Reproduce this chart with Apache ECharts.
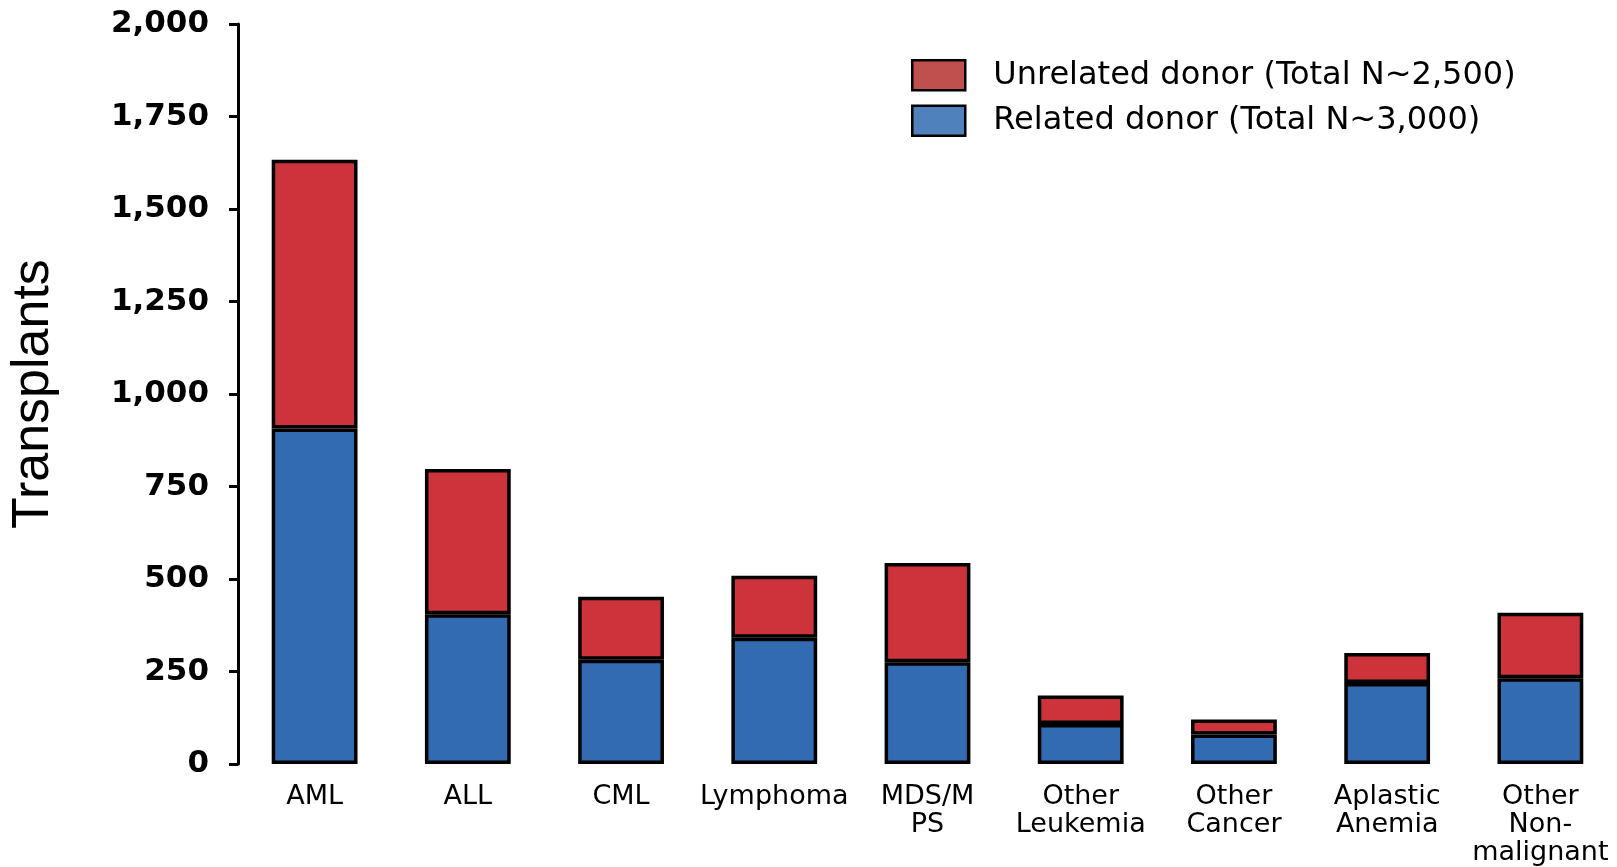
<!DOCTYPE html>
<html>
<head>
<meta charset="utf-8">
<script src="https://cdn.jsdelivr.net/npm/echarts@6/dist/echarts.min.js"></script>
<style>
html,body{margin:0;padding:0;background:#fff;}
#chart{width:1617px;height:867px;}
</style>
</head>
<body>
<div id="chart"></div>
<script>
var categories = ['AML', 'ALL', 'CML', 'Lymphoma', 'MDS/M\nPS', 'Other\nLeukemia', 'Other\nCancer', 'Aplastic\nAnemia', 'Other\nNon-\nmalignant'];
var relatedDonor = [907, 405, 282, 341, 275, 108, 80, 219, 232];
var unrelatedDonor = [726, 392, 170, 168, 268, 77, 40, 81, 177];
var yTicks = [0, 250, 500, 750, 1000, 1250, 1500, 1750, 2000];
var seriesNames = ['Unrelated donor (Total N~2,500)', 'Related donor (Total N~3,000)'];

var chart = echarts.init(document.getElementById('chart'));
chart.setOption({
  animation: false,
  backgroundColor: '#ffffff',
  grid: { left: 231, right: 0, top: 24, bottom: 89, containLabel: false },
  legend: {
    orient: 'vertical',
    left: 906,
    top: 54,
    icon: 'rect',
    itemWidth: 53,
    itemHeight: 30,
    itemGap: 13,
    data: [
      { name: seriesNames[0], itemStyle: { color: '#C0504D', borderColor: '#000', borderWidth: 2.5 } },
      { name: seriesNames[1], itemStyle: { color: '#4F81BD', borderColor: '#000', borderWidth: 2.5 } }
    ],
    textStyle: { fontFamily: 'DejaVu Sans', fontSize: 32, color: '#000', padding: [0, 0, 0, 23] }
  },
  xAxis: {
    type: 'category',
    data: categories,
    axisLine: { show: false },
    axisTick: { show: false },
    axisLabel: { fontFamily: 'DejaVu Sans', fontSize: 27, lineHeight: 28, color: '#000', margin: 19, interval: 0 }
  },
  yAxis: {
    type: 'value',
    min: 0,
    max: 2000,
    interval: 250,
    name: 'Transplants',
    nameLocation: 'middle',
    nameGap: 178,
    nameTextStyle: { fontFamily: 'Liberation Sans', fontSize: 52, color: '#000' },
    splitLine: { show: false },
    axisLine: { show: true, lineStyle: { color: '#000', width: 3 } },
    axisTick: { show: true, inside: false, length: 9, lineStyle: { color: '#000', width: 3 } },
    axisLabel: {
      fontFamily: 'DejaVu Sans', fontWeight: 'bold', fontSize: 31, color: '#000', margin: 29,
      formatter: function (v) { return yTicks.indexOf(v) >= 0 ? v.toLocaleString('en-US') : ''; }
    }
  },
  series: [
    {
      name: seriesNames[1],
      type: 'bar',
      stack: 'total',
      barWidth: '56%',
      data: relatedDonor,
      itemStyle: { color: '#336BB3', borderColor: '#000', borderWidth: 3.5 }
    },
    {
      name: seriesNames[0],
      type: 'bar',
      stack: 'total',
      barWidth: '56%',
      data: unrelatedDonor,
      itemStyle: { color: '#CC333A', borderColor: '#000', borderWidth: 3.5 }
    }
  ]
});
</script>
</body>
</html>
